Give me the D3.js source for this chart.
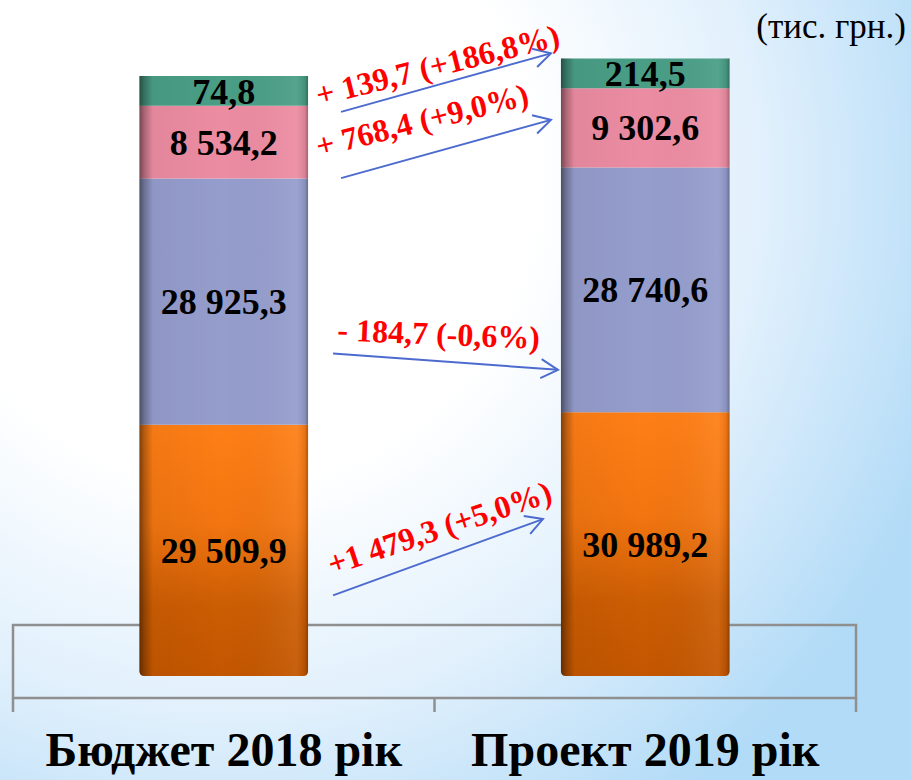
<!DOCTYPE html>
<html>
<head>
<meta charset="utf-8">
<script src="https://cdn.jsdelivr.net/npm/d3@7"></script>
<style>
  body { margin: 0; }
  svg { display: block; }
</style>
</head>
<body>
<div class="chart"></div>
<script>
// chart data (bottom -> top of each stack)
var categories = ["Бюджет 2018 рік", "Проект 2019 рік"];
var keys = ["s1", "s2", "s3", "s4"];
var budget2018 = [29509.9, 28925.3, 8534.2, 74.8];
var project2019 = [30989.2, 28740.6, 9302.6, 214.5];
var changeLabels = ["+1 479,3 (+5,0%)", "- 184,7 (-0,6%)", "+ 768,4 (+9,0%)", "+ 139,7 (+186,8%)"];
var unitLabel = "(тис. грн.)";

var colors = ["#f57812", "#959dcd", "#ec8ca2", "#4a9e86"];

// annotation layout (pixel offsets, not data)
var arrowLayout = [
  { sx: 25, sy: 45, ex: -18, ey: -25, tx: -1, ty: -20, angle: -18.5 },
  { sx: 25, sy: 52, ex: -3, ey: 80, tx: 4, ty: -13, angle: 2.3 },
  { sx: 33, sy: 36, ex: -10, ey: -8, tx: -22, ty: -21, angle: -14 },
  { sx: 33, sy: 21, ex: -10, ey: -20, tx: -22, ty: -6, angle: -14 }
];

var svgWidth = 911;
var svgHeight = 780;
var minShown = 3500; // tiny segments are drawn with a minimum height

var svg = d3.select(".chart")
  .append("svg")
  .attr("width", svgWidth)
  .attr("height", svgHeight)
  .style("font-family", "'Liberation Serif', 'Times New Roman', serif");

var defs = svg.append("defs");

// background
var bg = defs.append("radialGradient")
  .attr("id", "bg")
  .attr("gradientUnits", "userSpaceOnUse")
  .attr("cx", 230).attr("cy", 180).attr("r", 760);
bg.append("stop").attr("offset", "0").attr("stop-color", "#ffffff");
bg.append("stop").attr("offset", "0.4").attr("stop-color", "#ffffff");
bg.append("stop").attr("offset", "0.7").attr("stop-color", "#e1f0fc");
bg.append("stop").attr("offset", "1").attr("stop-color", "#b2dbf7");

svg.append("rect")
  .attr("width", svgWidth)
  .attr("height", svgHeight)
  .attr("fill", "url(#bg)");

// orange vertical gradient
var og = defs.append("linearGradient")
  .attr("id", "orange")
  .attr("x1", 0).attr("y1", 0).attr("x2", 0).attr("y2", 1);
og.append("stop").attr("offset", "0").attr("stop-color", "#ff7f16");
og.append("stop").attr("offset", "0.4").attr("stop-color", "#f27510");
og.append("stop").attr("offset", "0.72").attr("stop-color", "#cc5d03");
og.append("stop").attr("offset", "1").attr("stop-color", "#c35600");

// cylinder shading
var sh = defs.append("linearGradient")
  .attr("id", "shade")
  .attr("x1", 0).attr("y1", 0).attr("x2", 1).attr("y2", 0);
sh.append("stop").attr("offset", "0").attr("stop-color", "#000").attr("stop-opacity", 0.5);
sh.append("stop").attr("offset", "0.03").attr("stop-color", "#000").attr("stop-opacity", 0.28);
sh.append("stop").attr("offset", "0.08").attr("stop-color", "#000").attr("stop-opacity", 0.04);
sh.append("stop").attr("offset", "0.5").attr("stop-color", "#000").attr("stop-opacity", 0);
sh.append("stop").attr("offset", "0.93").attr("stop-color", "#fff").attr("stop-opacity", 0.06);
sh.append("stop").attr("offset", "0.98").attr("stop-color", "#000").attr("stop-opacity", 0.08);
sh.append("stop").attr("offset", "1").attr("stop-color", "#000").attr("stop-opacity", 0.3);

defs.append("marker")
  .attr("id", "head")
  .attr("markerUnits", "userSpaceOnUse")
  .attr("viewBox", "-20 -12 24 24")
  .attr("markerWidth", 24).attr("markerHeight", 24)
  .attr("refX", 0).attr("refY", 0)
  .attr("orient", "auto")
  .append("path")
  .attr("d", "M-17,-9.5L0,0L-17,9.5")
  .attr("fill", "none")
  .attr("stroke", "#4d6bcf")
  .attr("stroke-width", 2);

// scales
var x = d3.scaleBand().domain(categories).range([13, 856]).padding(0);
var barW = x.bandwidth() * 0.4;
var y = d3.scaleLinear().domain([0, 70000]).range([676, 80]);

var fmt = d3.formatLocale({ decimal: ",", thousands: " ", grouping: [3], currency: ["", ""] }).format(",.1f");

var rows = categories.map(function(c, i) {
  var src = i === 0 ? budget2018 : project2019;
  var r = { cat: c };
  keys.forEach(function(k, j) {
    r[k] = Math.max(src[j], minShown);
    r[k + "_v"] = src[j];
  });
  return r;
});

var series = d3.stack().keys(keys)(rows);

// floor box
var floorTop = 625, floorBottom = 698, tickLen = 14;
var floor = svg.append("g")
  .attr("stroke", "#8f8f8f")
  .attr("stroke-width", 2.5)
  .attr("fill", "none");
floor.append("rect")
  .attr("x", x.range()[0])
  .attr("y", floorTop)
  .attr("width", x.range()[1] - x.range()[0])
  .attr("height", floorBottom - floorTop);
var tickXs = categories.map(function(c) { return x(c); }).concat([x.range()[1]]);
floor.selectAll("line")
  .data(tickXs)
  .enter()
  .append("line")
  .attr("x1", d => d).attr("x2", d => d)
  .attr("y1", floorBottom).attr("y2", floorBottom + tickLen);

// bars
var cx = function(c) { return x(c) + x.bandwidth() / 2; };

function segPath(x0, x1, yTop, yBot, rBottom) {
  var r = rBottom;
  return "M" + x0 + "," + yTop + "L" + x1 + "," + yTop +
    "L" + x1 + "," + (yBot - r) + "Q" + x1 + "," + yBot + " " + (x1 - r) + "," + yBot +
    "L" + (x0 + r) + "," + yBot + "Q" + x0 + "," + yBot + " " + x0 + "," + (yBot - r) + "Z";
}

var barsG = svg.append("g");
series.forEach(function(s, si) {
  barsG.append("g")
    .selectAll("path")
    .data(s)
    .enter()
    .append("path")
    .attr("d", function(d) {
      var x0 = cx(d.data.cat) - barW / 2;
      return segPath(x0, x0 + barW, y(d[1]), y(d[0]), si === 0 ? 5 : 0);
    })
    .attr("fill", si === 0 ? "url(#orange)" : colors[si]);
});

// shading overlay per bar
barsG.selectAll("path.shade")
  .data(rows)
  .enter()
  .append("path")
  .attr("class", "shade")
  .attr("d", function(d) {
    var x0 = cx(d.cat) - barW / 2;
    var total = keys.reduce((a, k) => a + d[k], 0);
    return segPath(x0, x0 + barW, y(total), y(0), 5);
  })
  .attr("fill", "url(#shade)");

// value labels
series.forEach(function(s) {
  svg.append("g")
    .selectAll("text")
    .data(s)
    .enter()
    .append("text")
    .attr("x", d => cx(d.data.cat))
    .attr("y", d => (y(d[0]) + y(d[1])) / 2)
    .attr("dy", "0.35em")
    .attr("text-anchor", "middle")
    .attr("font-size", 36)
    .attr("font-weight", "bold")
    .attr("fill", "#000")
    .text(d => fmt(d.data[s.key + "_v"]));
});

// change arrows
var arrowsG = svg.append("g");
series.forEach(function(s, si) {
  var a = arrowLayout[si];
  var d0 = s[0], d1 = s[1];
  var sx = cx(d0.data.cat) + barW / 2 + a.sx;
  var sy = (y(d0[0]) + y(d0[1])) / 2 + a.sy;
  var ex = cx(d1.data.cat) - barW / 2 + a.ex;
  var ey = (y(d1[0]) + y(d1[1])) / 2 + a.ey;
  arrowsG.append("line")
    .attr("x1", sx).attr("y1", sy)
    .attr("x2", ex).attr("y2", ey)
    .attr("stroke", "#4d6bcf")
    .attr("stroke-width", 2)
    .attr("marker-end", "url(#head)");
  arrowsG.append("text")
    .attr("transform", "translate(" + (sx + a.tx) + "," + (sy + a.ty) + ") rotate(" + a.angle + ")")
    .attr("font-size", 32)
    .attr("font-weight", "bold")
    .attr("fill", "#ff0000")
    .text(changeLabels[si]);
});

// category labels
svg.append("g")
  .selectAll("text")
  .data(categories)
  .enter()
  .append("text")
  .attr("x", d => cx(d))
  .attr("y", 766)
  .attr("text-anchor", "middle")
  .attr("font-size", 48)
  .attr("font-weight", "bold")
  .text(d => d);

// units
svg.append("text")
  .attr("x", 906)
  .attr("y", 38)
  .attr("text-anchor", "end")
  .attr("font-size", 35)
  .text(unitLabel);
</script>
</body>
</html>
